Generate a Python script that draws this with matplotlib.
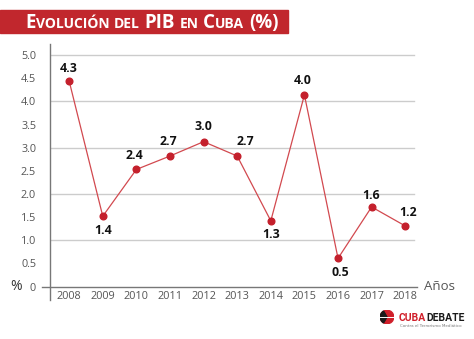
import matplotlib
matplotlib.use('Agg')

import matplotlib.pyplot as plt
import numpy as np
from matplotlib.patches import Rectangle, Circle, Wedge

# data
years = [2008, 2009, 2010, 2011, 2012, 2013, 2014, 2015, 2016, 2017, 2018]
# plotted heights as drawn in the picture
plot_values = [4.44, 1.52, 2.53, 2.82, 3.13, 2.82, 1.42, 4.14, 0.61, 1.72, 1.31]
# printed labels
value_labels = ['4.3', '1.4', '2.4', '2.7', '3.0', '2.7', '1.3', '4.0', '0.5', '1.6', '1.2']
label_offsets = [(0, 13), (0, -14), (-2, 14), (-2, 15), (0, 15), (8, 15),
                 (0, -14), (-2, 14), (2, -14), (-1, 11), (3, 13)]
y_ticks = [0, 0.5, 1.0, 1.5, 2.0, 2.5, 3.0, 3.5, 4.0, 4.5, 5.0]
y_tick_labels = ['0', '0.5', '1.0', '1.5', '2.0', '2.5', '3.0', '3.5', '4.0', '4.5', '5.0']
title_pieces = [('E', 'big'), ('VOLUCIÓN', 'small'), (' ', 'gap'), ('DEL', 'small'),
                (' ', 'gap'), ('PIB', 'big'), (' ', 'gap'), ('EN', 'small'), (' ', 'gap'),
                ('C', 'big'), ('UBA', 'small'), (' ', 'gap'), ('(%)', 'big')]

font = 'Open Sans'
gray = '#555555'
red = '#c4202c'

fig = plt.figure(figsize=(4.74, 3.39), dpi=100)
W, H = 474.0, 339.0
renderer = fig.canvas.get_renderer()

ax = fig.add_axes([50 / W, 1 - 300 / H, 367 / W, 256 / H])
ax.set_xlim(2007.43, 2018.35)
ax.set_ylim(-0.29, 5.24)

for s in ['top', 'right', 'bottom']:
    ax.spines[s].set_visible(False)
ax.spines['left'].set_color('#777777')
ax.spines['left'].set_linewidth(1.0)

# gridlines at integers
for g in [1, 2, 3, 4, 5]:
    ax.plot([2007.43, 2018.27], [g, g], color='#cccccc', lw=1.0, zorder=1)

# x axis line through zero, crossing the spine
ax.plot([2007.2, 2018.35], [0, 0], color='#777777', lw=1.0, clip_on=False, zorder=2)

ax.set_yticks(y_ticks)
ax.set_yticklabels(y_tick_labels, fontfamily=font, fontsize=7.8, color=gray)
ax.tick_params(axis='y', length=0, pad=10)
ax.set_xticks([])

for yr in years:
    ax.annotate(str(yr), (yr, 0), xytext=(0, -10), textcoords='offset pixels',
                ha='center', va='center', fontfamily=font, fontsize=7.8, color=gray)

ax.plot(years, plot_values, color='#d2494f', lw=0.9, zorder=3)
ax.plot(years, plot_values, 'o', color=red, markersize=4.8, zorder=4)

for yr, v, lab, off in zip(years, plot_values, value_labels, label_offsets):
    ax.annotate(lab, (yr, v), xytext=off, textcoords='offset pixels',
                ha='center', va='center', fontfamily=font, fontsize=8.8,
                fontweight='bold', color='#111111')

fig.text(16 / W, 1 - 287 / H, '%', ha='center', va='center', fontfamily=font,
         fontsize=10, color='#333333')
fig.text(440 / W, 1 - 286 / H, 'Años', ha='center', va='center', fontfamily=font,
         fontsize=9.5, color=gray)

# title banner with small caps, pieces placed one after another
fig.patches.append(Rectangle((0, 1 - 33 / H), 288 / W, 23 / H, transform=fig.transFigure,
                             color='#c1272d', zorder=0))
sizes = {'big': 13.5, 'small': 10}
x = 25.0
for txt, kind in title_pieces:
    if kind == 'gap':
        x += 4.0
        continue
    t = fig.text(x / W, 1 - 28 / H, txt, ha='left', va='baseline', fontfamily=font,
                 fontsize=sizes[kind], fontweight='bold', color='white')
    x += t.get_window_extent(renderer).width + 0.5

# logo
logo = fig.add_axes([380 / W, 1 - 324 / H, 14 / W, 14 / H])
logo.set_xlim(-1, 1)
logo.set_ylim(-1, 1)
logo.axis('off')
logo.add_patch(Circle((0, 0), 0.97, color='#d01f2a'))
logo.add_patch(Wedge((0, 0), 0.97, 120, 240, color='#1a1a1a'))
logo.plot([-0.95, 0.95], [0, 0], color='white', lw=0.7)
cuba = fig.text(399 / W, 1 - 321 / H, 'CUBA', ha='left', va='baseline', fontfamily='Roboto',
                fontsize=7.5, fontweight='bold', color='#d01f2a')
xd = 399 + cuba.get_window_extent(renderer).width + 0.5
fig.text(xd / W, 1 - 321 / H, 'DEBATE', ha='left', va='baseline', fontfamily='Roboto',
         fontsize=7.5, fontweight='bold', color='#1a1a1a')
fig.text(400 / W, 1 - 326 / H, 'Contra el Terrorismo Mediático', ha='left', va='center',
         fontfamily='DejaVu Sans', fontsize=2.9, color='#777777')

fig.savefig('out.png', dpi=100)
